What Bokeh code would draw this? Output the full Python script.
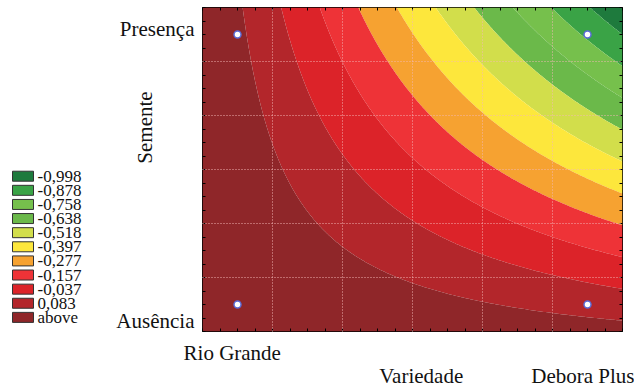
import numpy as np
from bokeh.plotting import figure
from bokeh.layouts import row
from bokeh.models import FixedTicker, LinearAxis, Range1d
from bokeh.core.properties import value
from bokeh.embed import file_html
from bokeh.resources import INLINE

# ---- data -------------------------------------------------------------
variedade_labels = ["Rio Grande", "Debora Plus"]     # coded -1 / +1
semente_labels = ["Ausência", "Presença"]            # coded -1 / +1

# response at the four design points (Variedade, Semente)
design_x = [-1, 1, -1, 1]
design_y = [-1, -1, 1, 1]
design_z = [0.209, 0.039, 0.109, -0.897]

contour_levels = [-0.998, -0.878, -0.758, -0.638, -0.518, -0.397,
                  -0.277, -0.157, -0.037, 0.083]
legend_labels = ["-0,998", "-0,878", "-0,758", "-0,638", "-0,518", "-0,397",
                 "-0,277", "-0,157", "-0,037", "0,083", "above"]
band_colors = ["#1e7a3d", "#3aa346", "#76c04c", "#6bb94a", "#d2de4b", "#fde73c",
               "#f6a231", "#ee3337", "#dc2329", "#b3262b", "#8f2629"]

# ---- fitted 2^2 factorial surface (b0 + b1 x + b2 y + b12 x y) ----------
dx = np.array(design_x, float); dy = np.array(design_y, float); dz = np.array(design_z)
b0 = dz.mean(); b1 = (dz * dx).mean(); b2 = (dz * dy).mean(); b12 = (dz * dx * dy).mean()
gx = np.linspace(-1.2, 1.2, 241)
gy = np.linspace(-1.2, 1.2, 241)
GX, GY = np.meshgrid(gx, gy)
GZ = b0 + b1 * GX + b2 * GY + b12 * GX * GY
levels = [float(GZ.min()) - 0.05] + contour_levels + [float(GZ.max()) + 0.05]

FONT = "Liberation Serif"
FS = "21px"
TXT = "#111111"
LEG_W = 105

# ---------------- main contour figure ----------------
p = figure(width=634 - LEG_W, height=390, output_backend="svg", toolbar_location=None,
           x_range=Range1d(-1.2, 1.2), y_range=Range1d(-1.2, 1.2),
           min_border_left=202 - LEG_W, min_border_right=12, min_border_top=7,
           min_border_bottom=54)
p.outline_line_color = "black"
p.outline_line_width = 1
p.background_fill_color = "white"

p.contour(gx, gy, GZ, levels=levels, fill_color=band_colors, line_color=None)

grid_ticks = [-0.8, -0.4, 0.0, 0.4, 0.8]
for g in (p.xgrid[0], p.ygrid[0]):
    g.ticker = FixedTicker(ticks=grid_ticks)
    g.grid_line_color = "#f6b8b8"
    g.grid_line_dash = "1 2"
    g.grid_line_width = 1
    g.grid_line_alpha = 0.95
    g.level = "overlay"

p.scatter(design_x, design_y, size=7, fill_color="white",
          line_color="#5b6bd6", line_width=1.5, level="overlay")

minor = [round(v, 2) for v in np.arange(-1.2, 1.2001, 0.1)]

def style_axis(ax):
    ax.axis_line_color = None
    ax.major_tick_in = 0
    ax.major_tick_out = 0
    ax.minor_tick_in = 3
    ax.minor_tick_out = 0
    ax.minor_tick_line_color = "black"
    ax.major_label_text_font = FONT
    ax.major_label_text_font_size = FS
    ax.major_label_text_color = TXT
    ax.axis_label_text_font = FONT
    ax.axis_label_text_font_size = FS
    ax.axis_label_text_font_style = "normal"
    ax.axis_label_text_color = TXT

# first row under the frame: Rio Grande
xa = p.xaxis[0]
xa.ticker = FixedTicker(ticks=[-1.03], minor_ticks=minor)
xa.major_label_overrides = {-1.03: variedade_labels[0]}
style_axis(xa)
xa.major_label_standoff = 9

# second row: axis title Variedade and Debora Plus on one line
xb = LinearAxis(ticker=FixedTicker(ticks=[0.05, 0.99]))
style_axis(xb)
xb.major_label_overrides = {0.05: "Variedade", 0.99: variedade_labels[1]}
xb.major_label_standoff = -4
p.add_layout(xb, "below")

# y axis: Presença / Ausência, title Semente
ya = p.yaxis[0]
ya.ticker = FixedTicker(ticks=[-1.12, 1.04], minor_ticks=minor)
ya.major_label_overrides = {-1.12: semente_labels[0], 1.04: semente_labels[1]}
style_axis(ya)
ya.major_label_standoff = 8
ya.axis_label = "\u00a0" * 16 + "Semente"
ya.axis_label_standoff = -44

for side in ("above", "right"):
    ax = LinearAxis(ticker=FixedTicker(ticks=[], minor_ticks=minor))
    style_axis(ax)
    ax.major_label_text_font_size = "0px"
    ax.major_label_standoff = 0
    p.add_layout(ax, side)

# ---------------- legend panel (drawn through its own scales) ----------------
# same frame height as the main plot; rows indexed 0 (top) .. 10 (bottom)
q = figure(width=LEG_W, height=390, output_backend="svg", toolbar_location=None,
           x_range=Range1d(0, LEG_W), y_range=Range1d(11.0, -11.95),
           x_axis_location=None, y_axis_location=None,
           min_border_left=0, min_border_right=0, min_border_top=7,
           min_border_bottom=54)
q.outline_line_color = None
q.grid.visible = False
q.background_fill_color = "white"
row_idx = list(range(len(legend_labels)))
q.rect(x=22.5, y=row_idx, width=21, height=10, width_units="screen",
       height_units="screen", fill_color=band_colors, line_color="#333333", line_width=1)
q.text(x=37, y=row_idx, text=legend_labels, text_font=value(FONT),
       text_font_size="17px", text_baseline="middle", text_align="left",
       text_color=TXT)

open("out.html", "w").write(file_html(row(q, p), INLINE))
